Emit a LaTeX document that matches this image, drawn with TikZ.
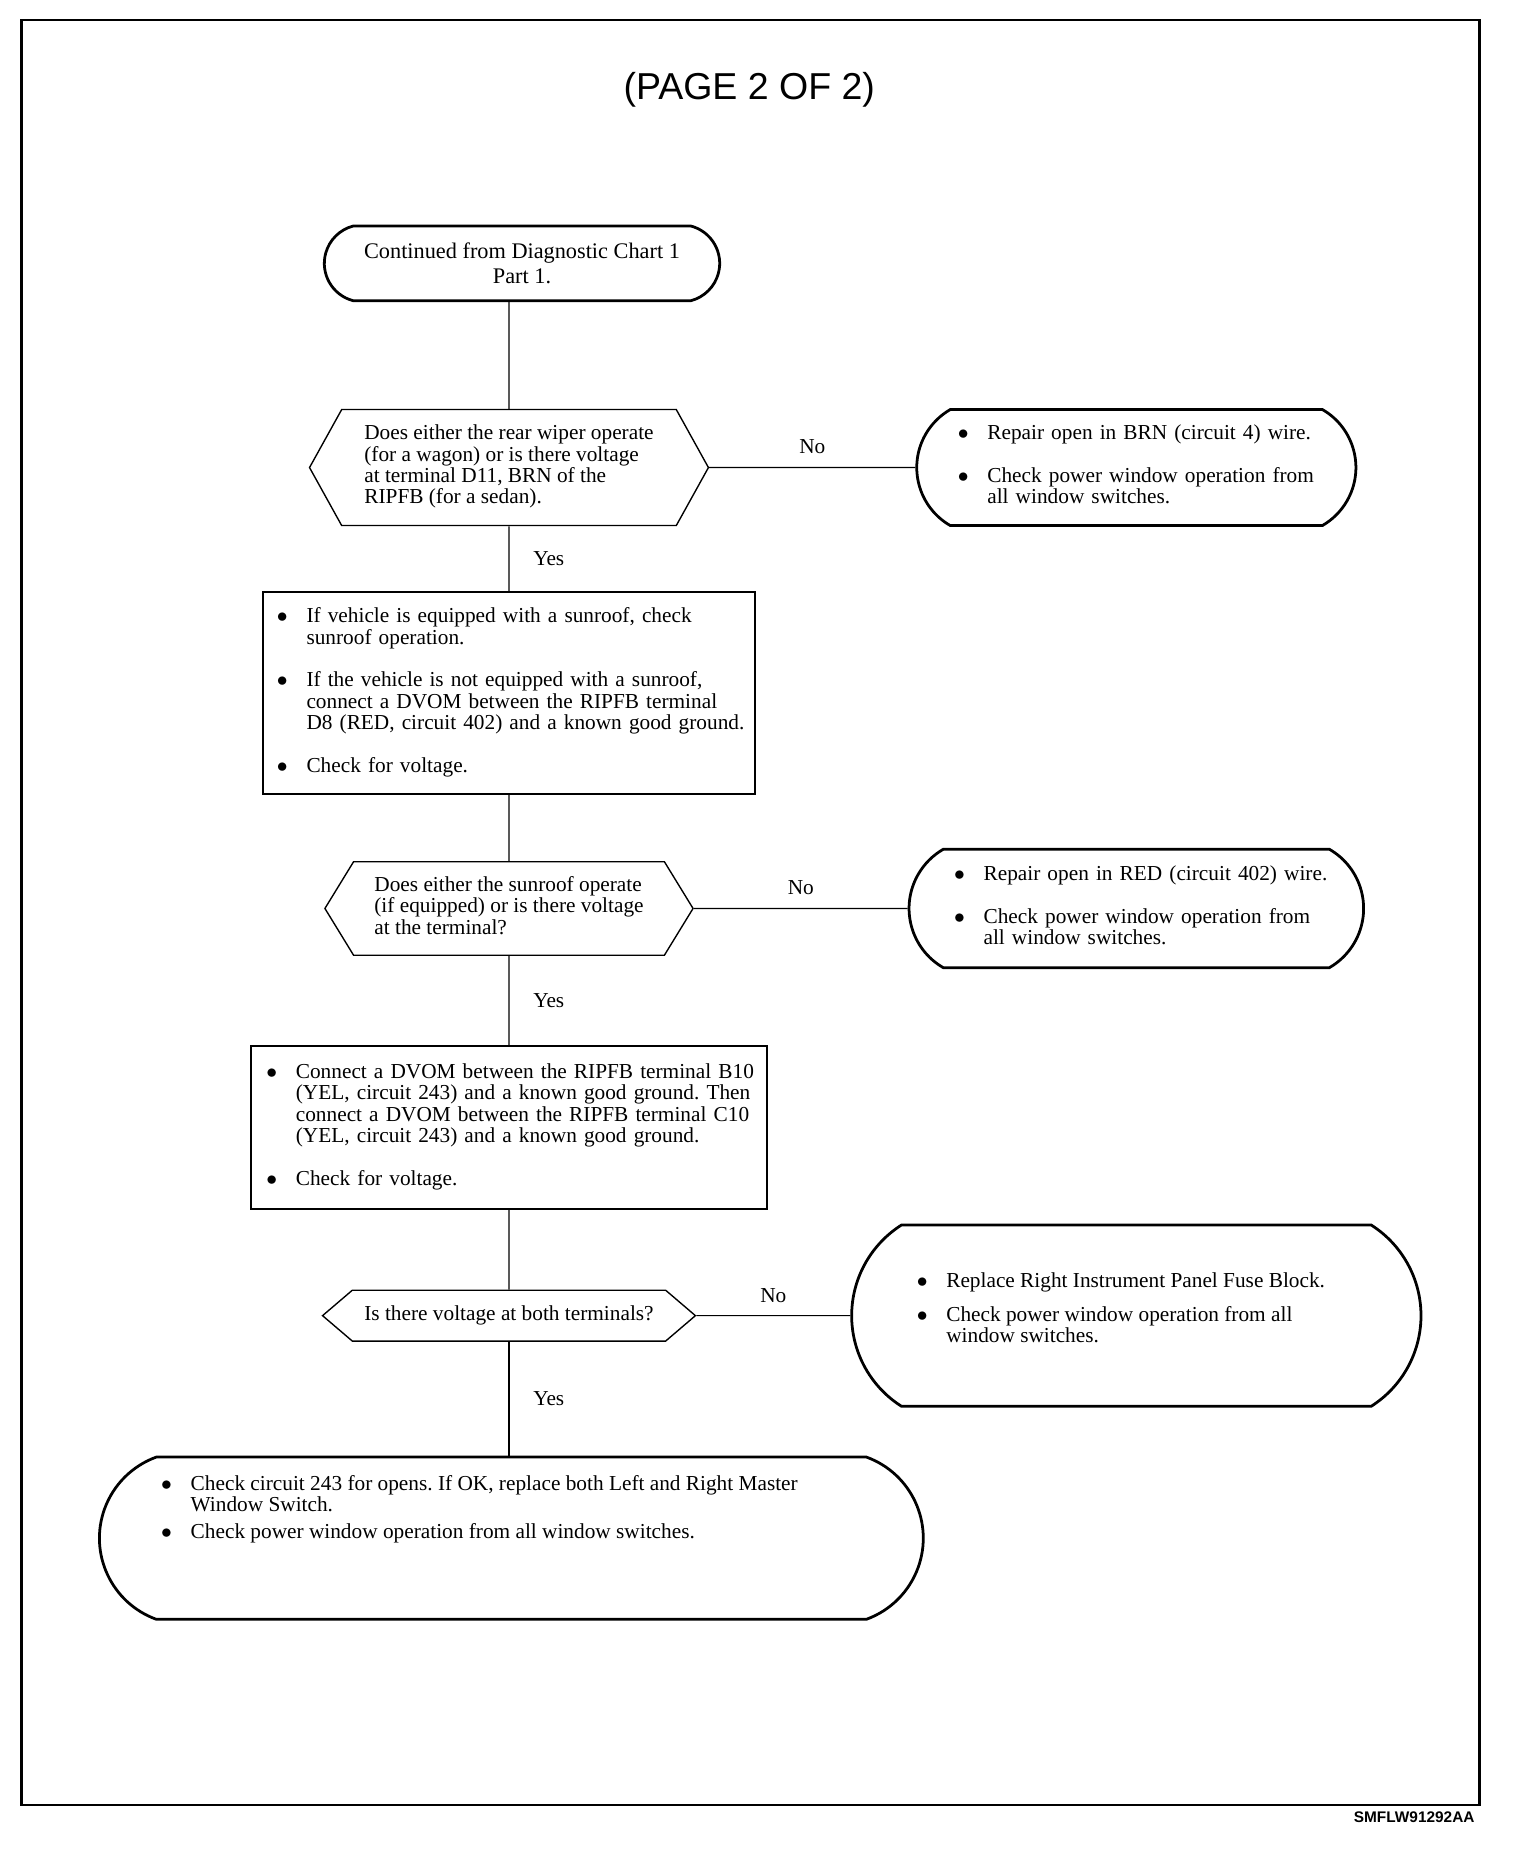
\documentclass[tikz,border=0pt]{standalone}
\usepackage{fontspec}
\setmainfont{Liberation Serif}
\setsansfont{Liberation Sans}
\usepackage{tikz}
\usetikzlibrary{positioning,shapes.misc,shapes.symbols}
\newcommand{\bul}{$\bullet$}
\newcommand{\blist}[1]{\begin{tabular}{@{}l@{\hspace{9.5pt}}l@{}}#1\end{tabular}}
\newcommand{\qlines}[1]{\begin{tabular}{@{}l@{}}#1\end{tabular}}
\tikzset{node distance=318pt, auto,
  txt/.style={font=\fontsize{10.8}{10.8}\selectfont},
  lbl/.style={txt, inner xsep=12pt, inner ysep=6.5pt},
  startbox/.style={txt, draw, line width=1.4pt, rounded rectangle, rounded rectangle arc length=150, inner sep=0pt, align=center, font=\fontsize{11.3}{12.6}\selectfont},
  decision/.style={txt, draw, line width=0.7pt, signal, signal to=west and east, inner sep=0pt},
  actbox/.style={txt, draw, line width=1pt, rectangle, inner sep=0pt, align=left},
  fixbox/.style={txt, draw, line width=1.4pt, rounded rectangle, inner sep=0pt, align=left},
  conn/.style={line width=0.6pt},
  frame/.style={line width=1.3pt}
}
\begin{document}
\frenchspacing
\begin{tikzpicture}[x=0.6pt, y=-0.6pt]
  \useasboundingbox (2,-1) rectangle (1286,1567);
  \draw[frame] (20,16) rectangle (1252,1524);
  \node (title) at (635,75) [font=\sffamily\fontsize{19}{22}\selectfont] {(PAGE 2 OF 2)};
  \node (code) at (1248,1534) [anchor=east, inner sep=0pt, font=\sffamily\bfseries\fontsize{7.8}{9}\selectfont] {SMFLW91292AA};

  \node (start) at (443,221.5) [startbox, minimum width=200.4pt, minimum height=37.8pt] {Continued from Diagnostic Chart 1\\Part 1.};
  \node (q1) [decision, below of=start, node distance=103.5pt, xshift=-6.6pt, minimum width=202.2pt, minimum height=58.8pt, signal pointer angle=122] {\qlines{Does either the rear wiper operate\\(for a wagon) or is there voltage\\at terminal D11, BRN of the\\RIPFB (for a sedan).}};
  \node (fix1) [fixbox, right of=q1, rounded rectangle arc length=120, minimum width=222.6pt, minimum height=58.8pt, text width=181pt] {\blist{%
    \bul & Repair open in BRN (circuit 4) wire.\\[10.8pt]
    \bul & Check power window operation from\\
    & all window switches.}};
  \node (act1) [actbox, below of=q1, node distance=114.3pt, minimum width=249.6pt, minimum height=102.6pt, text width=235.2pt] {\blist{%
    \bul & If vehicle is equipped with a sunroof, check\\
    & sunroof operation.\\[10.8pt]
    \bul & If the vehicle is not equipped with a sunroof,\\
    & connect a DVOM between the RIPFB terminal\\
    & D8 (RED, circuit 402) and a known good ground.\\[10.8pt]
    \bul & Check for voltage.}};
  \node (q2) [decision, below of=act1, node distance=109.2pt, minimum width=186.6pt, minimum height=47.4pt, signal pointer angle=117] {\qlines{Does either the sunroof operate\\(if equipped) or is there voltage\\at the terminal?}};
  \node (fix2) [fixbox, right of=q2, rounded rectangle arc length=120, minimum width=230.4pt, minimum height=60pt, text width=184.8pt] {\blist{%
    \bul & Repair open in RED (circuit 402) wire.\\[10.8pt]
    \bul & Check power window operation from\\
    & all window switches.}};
  \node (act2) [actbox, below of=q2, node distance=111pt, minimum width=261.6pt, minimum height=82.2pt, text width=246pt] {\blist{%
    \bul & Connect a DVOM between the RIPFB terminal B10\\
    & (YEL, circuit 243) and a known good ground. Then\\
    & connect a DVOM between the RIPFB terminal C10\\
    & (YEL, circuit 243) and a known good ground.\\[10.8pt]
    \bul & Check for voltage.}};
  \node (q3) [decision, below of=act2, node distance=95.4pt, minimum width=189pt, minimum height=25.8pt, signal pointer angle=81] {Is there voltage at both terminals?};
  \node (fix3) [fixbox, right of=q3, rounded rectangle arc length=115, minimum width=288.6pt, minimum height=91.8pt] {\parbox[c][43.3pt][t]{222.6pt}{\blist{%
    \bul & Replace Right Instrument Panel Fuse Block.\\[6pt]
    \bul & Check power window operation from all\\
    & window switches.}}};
  \node (act3) [fixbox, below of=q3, node distance=112.8pt, xshift=1.2pt, rounded rectangle arc length=140, minimum width=417.6pt, minimum height=82.2pt] {\parbox[c][63.7pt][t]{355pt}{\blist{%
    \bul & Check circuit 243 for opens. If OK, replace both Left and Right Master\\
    & Window Switch.\\[3pt]
    \bul & Check power window operation from all window switches.}}};

  \draw[conn] (start.south -| q1) -- (q1);
  \draw[conn] (q1) to node[lbl] {No} (fix1);
  \draw[conn] (q1) to node[lbl] {Yes} (act1);
  \draw[conn] (act1) to (q2);
  \draw[conn] (q2) to node[lbl] {No} (fix2);
  \draw[conn] (q2) to node[lbl] {Yes} (act2);
  \draw[conn] (act2) to (q3);
  \draw[conn] (q3) to node[lbl] {No} (fix3);
  \draw[conn] (q3) to node[lbl] {Yes} (act3.north -| q3);
\end{tikzpicture}
\end{document}
